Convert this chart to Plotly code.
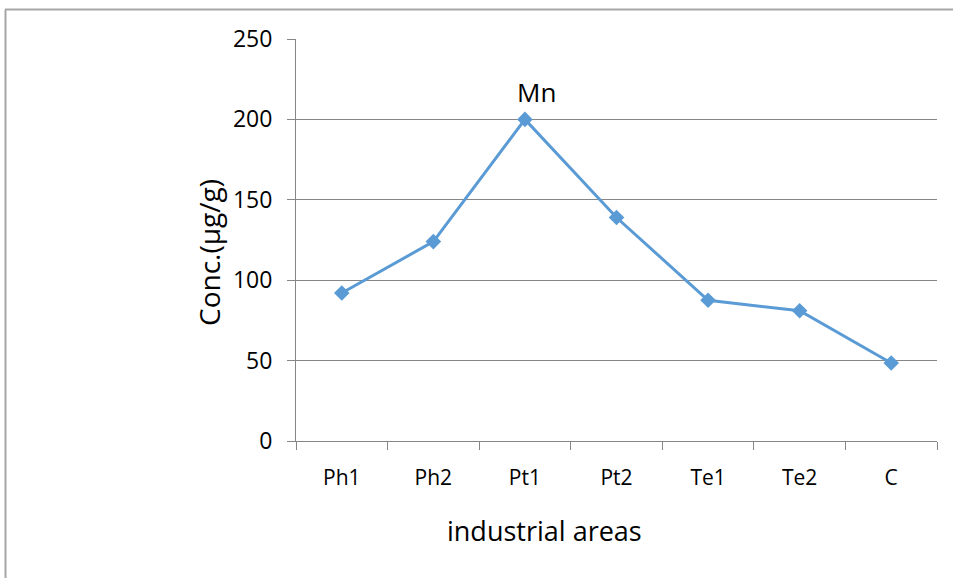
import plotly.graph_objects as go

categories = ["Ph1", "Ph2", "Pt1", "Pt2", "Te1", "Te2", "C"]
mn_values = [92, 124, 200, 139, 87.5, 81, 48.5]
y_ticks = [0, 50, 100, 150, 200, 250]

W, H = 953, 578
L, R, T, B = 296, 16, 39, 137
pw, ph = W - L - R, H - T - B

def px_x(x):
    return (x - L) / pw

def px_y(y):
    return (H - B - y) / ph

fig = go.Figure()
fig.add_trace(go.Scatter(
    x=categories, y=mn_values, mode="lines+markers",
    line=dict(color="#5B9BD5", width=3),
    marker=dict(symbol="diamond", size=12, color="#5B9BD5"),
    showlegend=False,
))

font = "'Open Sans', sans-serif"
fig.update_layout(
    width=W, height=H,
    margin=dict(l=L, r=R, t=T, b=B, autoexpand=False),
    paper_bgcolor="white", plot_bgcolor="white",
    font=dict(family=font, color="black", size=20),
    xaxis=dict(
        type="category", range=[-0.5, len(categories) - 0.5],
        showline=True, linecolor="#868686", linewidth=1,
        ticks="outside", tickson="boundaries", ticklen=8, tickcolor="#868686",
        showgrid=False, tickfont=dict(size=21), ticklabelstandoff=18,
    ),
    yaxis=dict(
        range=[0, 250], tickvals=y_ticks, showline=True, linecolor="#868686",
        ticks="outside", ticklen=8, tickcolor="#868686",
        showgrid=True, gridcolor="#868686", gridwidth=1, zeroline=False,
        tickfont=dict(size=23), ticklabelstandoff=10,
    ),
)
fig.add_annotation(x="Pt1", xref="x", y=mn_values[2], yref="y",
                   xshift=12, yshift=27, text="Mn", showarrow=False,
                   font=dict(size=26), xanchor="center", yanchor="middle")
# axis titles
fig.add_annotation(x=px_x(544), y=px_y(530), xref="paper", yref="paper",
                   text="industrial areas", showarrow=False,
                   font=dict(size=27), xanchor="center", yanchor="middle")
fig.add_annotation(x=px_x(209), y=px_y(253), xref="paper", yref="paper",
                   text="Conc.(µg/g)", showarrow=False, textangle=-90,
                   font=dict(size=28), xanchor="center", yanchor="middle")

# outer chart-area border (left and top edges visible)
fig.add_shape(type="line", xref="paper", yref="paper",
              x0=px_x(5.5), x1=px_x(5.5), y0=px_y(H + 10), y1=px_y(9.5),
              line=dict(color="#A6A6A6", width=2))
fig.add_shape(type="line", xref="paper", yref="paper",
              x0=px_x(5), x1=px_x(W + 10), y0=px_y(9.5), y1=px_y(9.5),
              line=dict(color="#A6A6A6", width=2))

fig.write_html("out.html")
